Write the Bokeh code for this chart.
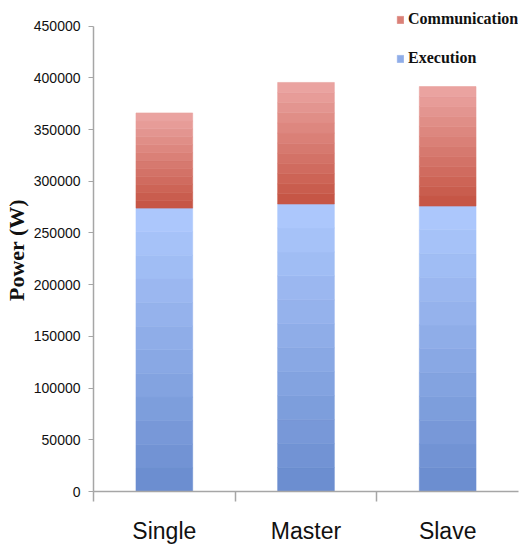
import numpy as np
from bokeh.plotting import figure
from bokeh.models import (ColumnDataSource, Range1d, FixedTicker, Legend, LegendItem)
from bokeh.embed import file_html
from bokeh.resources import INLINE

# ---- data ----
categories = ["Single", "Master", "Slave"]
execution = [274000, 278000, 276000]
communication = [92000, 117500, 115500]
y_ticks = [0, 50000, 100000, 150000, 200000, 250000, 300000, 350000, 400000, 450000]
y_tick_labels = [str(t) for t in y_ticks]

# ---- styling ----
N_BANDS = 12
BLUE_BOTTOM, BLUE_TOP = (108, 142, 208), (172, 199, 252)
RED_BOTTOM, RED_TOP = (198, 86, 70), (234, 163, 160)
BAR_W = 0.4


def lerp(c0, c1, t):
    return "#%02x%02x%02x" % tuple(int(round(a + (b - a) * t)) for a, b in zip(c0, c1))


def bands(bottoms, tops, c0, c1):
    xs, bs, ts, cs = [], [], [], []
    for i, (b0, t0) in enumerate(zip(bottoms, tops)):
        edges = np.linspace(b0, t0, N_BANDS + 1)
        for k in range(N_BANDS):
            xs.append(i + 0.5)
            bs.append(edges[k])
            ts.append(edges[k + 1])
            cs.append(lerp(c0, c1, k / (N_BANDS - 1)))
    return ColumnDataSource(dict(x=xs, bottom=bs, top=ts, color=cs))


exec_arr = np.array(execution, dtype=float)
comm_arr = np.array(communication, dtype=float)
src_exec = bands(np.zeros_like(exec_arr), exec_arr, BLUE_BOTTOM, BLUE_TOP)
src_comm = bands(exec_arr, exec_arr + comm_arr, RED_BOTTOM, RED_TOP)

p = figure(width=519, height=552, output_backend="svg", toolbar_location=None,
           x_range=Range1d(0, len(categories)), y_range=Range1d(0, 467000),
           min_border_left=92, min_border_right=1, min_border_top=8, min_border_bottom=61)
p.outline_line_color = None
p.xgrid.visible = False
p.ygrid.visible = False

r_exec = p.vbar(x="x", bottom="bottom", top="top", width=BAR_W, source=src_exec,
                fill_color="color", line_color="color", line_width=0.6)
r_comm = p.vbar(x="x", bottom="bottom", top="top", width=BAR_W, source=src_comm,
                fill_color="color", line_color="color", line_width=0.6)

AX = "#a6a6a6"
# y axis
ya = p.yaxis[0]
ya.ticker = FixedTicker(ticks=y_ticks, minor_ticks=[])
ya.major_label_overrides = {t: l for t, l in zip(y_ticks, y_tick_labels)}
ya.bounds = (y_ticks[0], y_ticks[-1])
ya.axis_line_color = AX
ya.axis_line_width = 1.5
ya.major_tick_line_color = AX
ya.major_tick_out = 5
ya.major_tick_in = 0
ya.major_label_standoff = 8
ya.major_label_text_font = "Liberation Sans"
ya.major_label_text_font_size = "14px"
ya.major_label_text_color = "#111111"
ya.axis_label = "Power (W)"
ya.axis_label_text_font = "Liberation Serif"
ya.axis_label_text_font_style = "bold"
ya.axis_label_text_font_size = "22px"
ya.axis_label_text_color = "#111111"
ya.axis_label_standoff = 2

# x axis
xa = p.xaxis[0]
centers = [i + 0.5 for i in range(len(categories))]
xa.ticker = FixedTicker(ticks=centers, minor_ticks=list(range(len(categories))))
xa.major_label_overrides = {c: n for c, n in zip(centers, categories)}
xa.bounds = (0, len(categories))
xa.axis_line_color = AX
xa.axis_line_width = 1.5
xa.major_tick_line_color = None
xa.major_tick_out = 0
xa.major_tick_in = 0
xa.minor_tick_line_color = AX
xa.minor_tick_line_width = 1.5
xa.minor_tick_out = 10
xa.minor_tick_in = 0
xa.major_label_standoff = 16
xa.major_label_text_font = "Liberation Sans"
xa.major_label_text_font_size = "23px"
xa.major_label_text_color = "#111111"

legend = Legend(items=[
    LegendItem(label="Communication", renderers=[r_comm], index=N_BANDS // 2),
    LegendItem(label="Execution", renderers=[r_exec], index=N_BANDS // 2),
], location=(303, 423))
legend.background_fill_alpha = 0
legend.border_line_color = None
legend.margin = 0
legend.padding = 2
legend.glyph_width = 8
legend.glyph_height = 9
legend.label_standoff = 4
legend.label_height = 20
legend.spacing = 19
legend.label_text_font = "Liberation Serif"
legend.label_text_font_style = "bold"
legend.label_text_font_size = "16px"
legend.label_text_color = "#111111"
p.add_layout(legend, "center")

open("out.html", "w").write(file_html(p, INLINE))
